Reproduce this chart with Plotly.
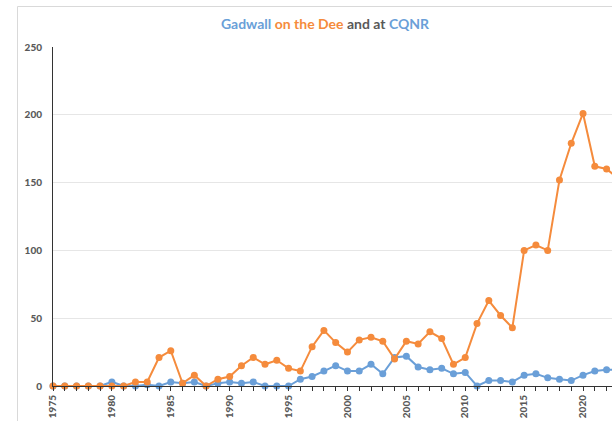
import plotly.graph_objects as go

years = list(range(1975, 2024))
dee = [0, 0, 0, 0, 0, 0, 0, 3, 3, 21, 26, 2, 8, 0, 5, 7, 15, 21, 16, 19,
       13, 11, 29, 41, 32, 25, 34, 36, 33, 20, 33, 31, 40, 35, 16, 21, 46, 63, 52, 43,
       100, 104, 100, 152, 179, 201, 162, 160, 153]
cqnr = [0, 0, 0, 0, 0, 3, 0, 0, 1, 0, 3, 2, 3, 0, 2, 3, 2, 3, 0, 0,
        0, 5, 7, 11, 15, 11, 11, 16, 9, 21, 22, 14, 12, 13, 9, 10, 0, 4, 4, 3,
        8, 9, 6, 5, 4, 8, 11, 12, 12]
y_ticks = [0, 50, 100, 150, 200, 250]

BLUE = "#6a9fd8"
ORANGE = "#f58b3c"
GREY = "#595959"
FONT = "Lato"

fig = go.Figure()
fig.add_trace(go.Scatter(x=years, y=cqnr, mode="lines+markers", name="CQNR",
                         line=dict(color=BLUE, width=2),
                         marker=dict(color=BLUE, size=7), cliponaxis=False))
fig.add_trace(go.Scatter(x=years, y=dee, mode="lines+markers", name="Dee",
                         line=dict(color=ORANGE, width=2),
                         marker=dict(color=ORANGE, size=7), cliponaxis=False))

tickvals = years[:-1]
ticktext = [str(y) if y % 5 == 0 else "" for y in tickvals]

fig.update_layout(
    width=612, height=421,
    margin=dict(l=53, r=0, t=47, b=35),
    plot_bgcolor="white", paper_bgcolor="white",
    showlegend=False,
    font=dict(family=FONT, color=GREY),
    title=dict(
        text=(f"<b><span style='color:{BLUE}'>Gadwall</span> "
              f"<span style='color:{ORANGE}'>on the Dee</span> "
              f"<span style='color:#595959'>and at</span> "
              f"<span style='color:{BLUE}'>CQNR</span></b>"),
        x=325 / 612, xanchor="center", y=1 - 24 / 421, yanchor="middle",
        font=dict(size=14, family=FONT)),
    xaxis=dict(range=[1975, 2022.46], tickvals=tickvals, ticktext=ticktext,
               tickangle=-90, ticks="outside", ticklen=4, tickcolor="#333333",
               showline=True, linecolor="#333333", linewidth=1,
               showgrid=False, zeroline=False,
               tickfont=dict(size=10, color=GREY, family=FONT + " Black")),
    yaxis=dict(range=[0, 250], tickvals=y_ticks, ticks="",
               showline=True, linecolor="#333333", linewidth=1,
               showgrid=True, gridcolor="#e6e6e6", zeroline=False,
               ticklabelstandoff=8,
               tickfont=dict(size=10, color=GREY, family=FONT + " Black")),
    shapes=[dict(type="rect", xref="paper", yref="paper",
                 x0=(17.5 - 53) / 559, x1=1.3, y0=-0.3, y1=(386 - 6.5) / 339,
                 line=dict(color="#d9d9d9", width=1), layer="above")],
)

fig.write_html("out.html", config={"displayModeBar": False},
               post_script="document.body.style.margin='0';document.body.style.overflow='hidden';")
